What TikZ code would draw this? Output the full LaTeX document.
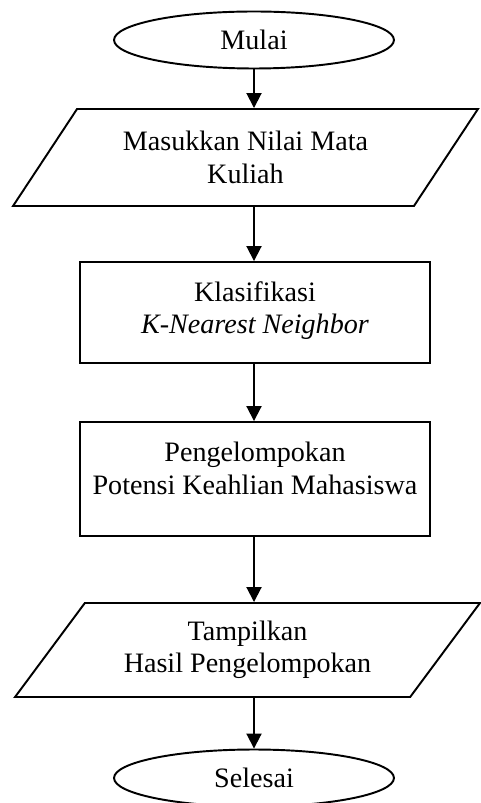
\documentclass[tikz,border=0pt]{standalone}
\usepackage{fontspec}
\setmainfont{Liberation Serif}
\usetikzlibrary{shapes.geometric,arrows.meta}
\begin{document}
\begin{tikzpicture}[x=0.02cm, y=-0.02cm, line width=1.1pt, >={Triangle[length=0.3cm,width=0.3cm]},
	font=\fontsize{16}{18.5}\selectfont,
	terminal/.style={ellipse, draw, minimum width=5.6cm, minimum height=1.14cm, inner sep=0pt},
	process/.style={rectangle, draw, align=center, minimum width=7cm},
	io/.style={trapezium, draw, align=center, trapezium left angle=45, trapezium right angle=135,
		trapezium stretches body, minimum width=9.3cm}]
	\useasboundingbox (0,0) rectangle (480,803);
	\node[terminal] (start) at (254,40) {Mulai};
	\node[io, minimum height=1.94cm] (in1) at (245.5,157.5) {Masukkan Nilai Mata\\Kuliah};
	\node[process, minimum height=2.02cm] (proc1) at (255,312.5) {Klasifikasi\\\textit{K-Nearest Neighbor}\rule[-0.2cm]{0pt}{0pt}};
	\node[process, minimum height=2.28cm] (proc2) at (255,479) {Pengelompokan\\Potensi Keahlian Mahasiswa\rule[-0.44cm]{0pt}{0pt}};
	\node[io, minimum height=1.88cm] (out1) at (247.5,650) {Tampilkan\\Hasil Pengelompokan};
	\node[terminal] (stop) at (254,778) {Selesai};
	\foreach \a/\b in {start/in1, in1/proc1, proc1/proc2, proc2/out1, out1/stop}
	\draw[->] (\a.south -| start) -- (\b.north -| start);
\end{tikzpicture}
\end{document}
